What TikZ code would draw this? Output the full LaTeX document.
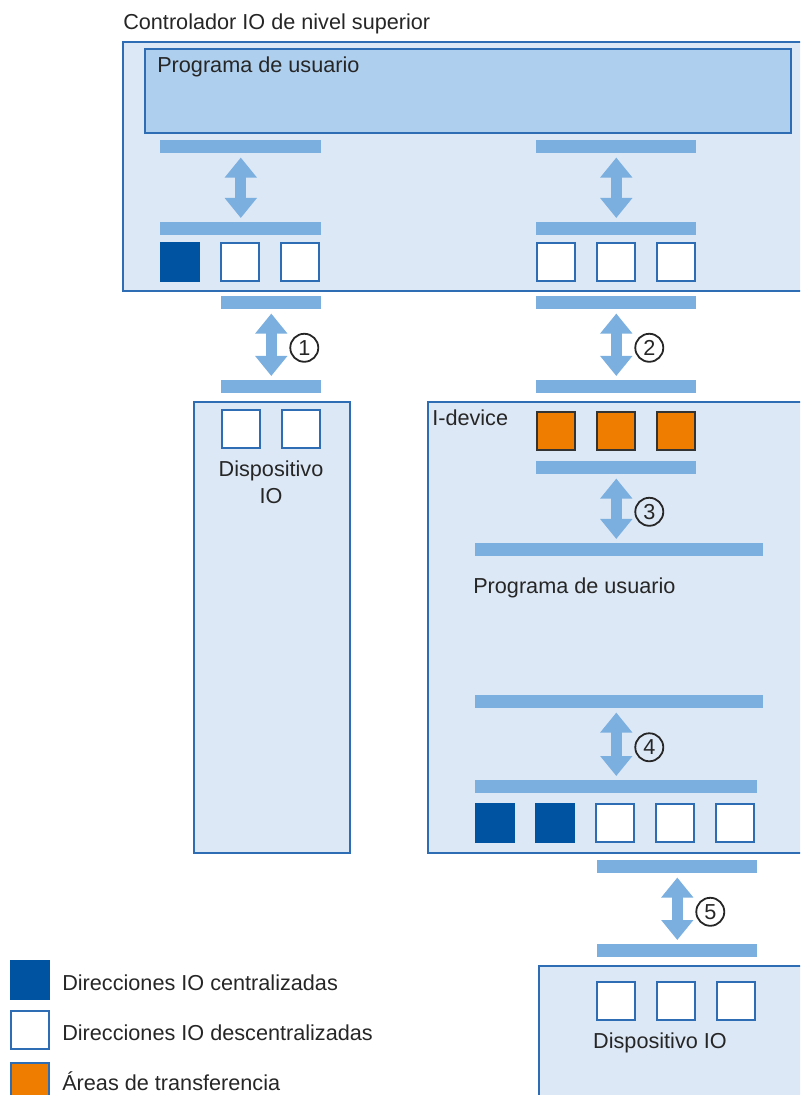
\documentclass[tikz,border=0pt]{standalone}
\usepackage{fontspec}
\setmainfont{Liberation Sans}
\usepackage{xcolor}
\definecolor{cajafondo}{HTML}{DDE8F6}
\definecolor{cajaborde}{HTML}{2E6CB4}
\definecolor{progfondo}{HTML}{AFCFEE}
\definecolor{barraazul}{HTML}{7AAFDF}
\definecolor{azulcentral}{HTML}{0053A1}
\definecolor{naranja}{HTML}{EF7D00}
\usetikzlibrary{positioning, arrows.meta}
\newdimen\pu \pu=0.025cm

\begin{document}
\begin{tikzpicture}[x=0.025cm, y=-0.025cm,
      caja/.style={draw=cajaborde, line width=2\pu, fill=cajafondo,
                   anchor=north west, inner sep=0},
      prog/.style={caja, fill=progfondo},
      barra/.style={fill=barraazul, inner sep=0, minimum height=13\pu,
                    anchor=north west},
      celda/.style={draw=cajaborde, line width=2\pu, fill=white,
                    minimum size=38\pu, inner sep=0},
      central/.style={celda, fill=azulcentral, draw=azulcentral},
      transf/.style={celda, fill=naranja, draw=black!80},
      flecha/.style={draw=barraazul, line width=2.75mm,
                     {Triangle[width=7.75mm, length=5mm]}-{Triangle[width=7.75mm, length=5mm]},
                     shorten <=1mm, shorten >=1mm},
      num/.style={circle, draw=black!85, line width=1.8\pu, inner sep=0,
                  minimum size=28\pu, xshift=33\pu, yshift=-3\pu,
                  font=\fontsize{15.4}{18}\selectfont, text=black!85},
      texto/.style={font=\fontsize{15.4}{18.5}\selectfont, inner sep=0,
                    text=black!85},
      node distance=20\pu]
    \useasboundingbox (0,0) rectangle (800,1095);
    \clip (0,0) rectangle (800,1095);

    % controlador superior
    \node[texto, anchor=base west] (tit) at (123,30) {Controlador IO de nivel superior};
    \node[caja, minimum width=720\pu, minimum height=249\pu] (ctrl) at (122,41) {};
    \node[prog, minimum width=646\pu, minimum height=84\pu] (progsup) at (144,48) {};
    \node[texto, anchor=base west] (tprog1) at (157,73) {Programa de usuario};
    \node[barra, minimum width=161\pu] (bs1) at (160,140) {};
    \node[barra, minimum width=161\pu] (bs2) at (160,222) {};
    \node[barra, minimum width=160\pu] (bd1) at (536,140) {};
    \node[barra, minimum width=160\pu] (bd2) at (536,222) {};
    \draw[flecha] (bs1.south) -- (bs2.north);
    \draw[flecha] (bd1.south) -- (bd2.north);
    \node[central] (cs1) at (180,262) {};
    \node[celda, right=of cs1] (cs2) {};
    \node[celda, right=of cs2] (cs3) {};
    \node[celda] (cd1) at (556,262) {};
    \node[celda, right=of cd1] (cd2) {};
    \node[celda, right=of cd2] (cd3) {};

    % enlaces 1 y 2
    \node[barra, minimum width=100\pu] (bl3) at (221,296) {};
    \node[barra, minimum width=100\pu] (bl4) at (221,380) {};
    \node[barra, minimum width=160\pu] (bd3) at (536,296) {};
    \node[barra, minimum width=160\pu] (bd4) at (536,380) {};
    \draw[flecha] (bl3.south) -- node[num] {1} (bl4.north);
    \draw[flecha] (bd3.south) -- node[num] {2} (bd4.north);

    % dispositivo IO izquierdo
    \node[caja, minimum width=156\pu, minimum height=451\pu] (dev1) at (193,401) {};
    \node[celda] (ci1) at (241,429) {};
    \node[celda, right=of ci1] (ci2) {};
    \node[texto, align=center, anchor=base] (tdev1) at (271,503) {Dispositivo\\IO};

    % I-device
    \node[caja, minimum width=400\pu, minimum height=451\pu] (idev) at (427,401) {};
    \node[texto, anchor=base west] (tidev) at (432,425) {I-device};
    \node[transf] (co1) at (556,431) {};
    \node[transf, right=of co1] (co2) {};
    \node[transf, right=of co2] (co3) {};
    \node[barra, minimum width=160\pu] (bo) at (536,461) {};
    \node[barra, minimum width=288\pu] (bp1) at (475,543) {};
    \node[texto, anchor=base west] (tprog2) at (473,593) {Programa de usuario};
    \node[barra, minimum width=288\pu] (bp2) at (475,695) {};
    \node[barra, minimum width=282\pu] (bp3) at (475,780) {};
    \draw[flecha] (bo.south) -- node[num] {3} (bo.south |- bp1.north);
    \draw[flecha] (bo.south |- bp2.south) -- node[num] {4} (bo.south |- bp3.north);
    \node[central] (ce1) at (495,823) {};
    \node[central, right=of ce1] (ce2) {};
    \node[celda, right=of ce2] (ce3) {};
    \node[celda, right=of ce3] (ce4) {};
    \node[celda, right=of ce4] (ce5) {};

    % enlace 5 y dispositivo IO derecho
    \node[barra, minimum width=160\pu] (bi1) at (597,860) {};
    \node[barra, minimum width=160\pu] (bi2) at (597,944) {};
    \draw[flecha] (bi1.south) -- node[num] {5} (bi2.north);
    \node[caja, minimum width=300\pu, minimum height=200\pu] (dev2) at (538,965) {};
    \node[celda] (cr1) at (616,1001) {};
    \node[celda, right=of cr1] (cr2) {};
    \node[celda, right=of cr2] (cr3) {};
    \node[texto, anchor=base] (tdev2) at (660,1048) {Dispositivo IO};

    % leyenda
    \node[central] (lc) at (30,980) {};
    \node[celda] (ld) at (30,1030) {};
    \node[transf, draw=cajaborde] (lt) at (30,1082) {};
    \node[texto, anchor=base west] (tlc) at (62,990) {Direcciones IO centralizadas};
    \node[texto, anchor=base west] (tld) at (62,1040) {Direcciones IO descentralizadas};
    \node[texto, anchor=base west] (tlt) at (62,1090) {Áreas de transferencia};
\end{tikzpicture}
\end{document}
